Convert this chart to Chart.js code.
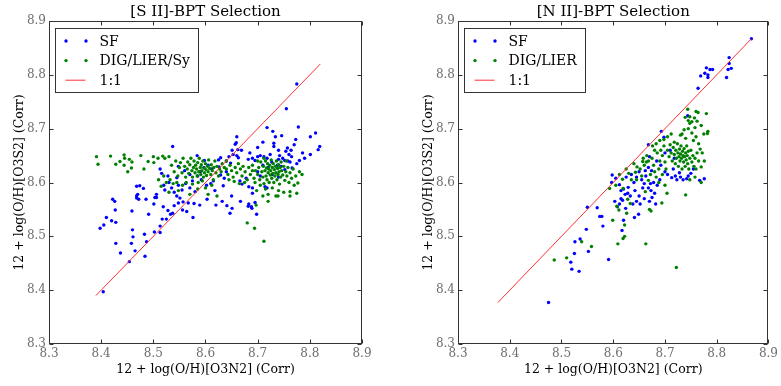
<!DOCTYPE html>
<html lang="en">
<head>
<meta charset="UTF-8">
<title>BPT Selection - O3S2 vs O3N2</title>
<script src="https://cdn.jsdelivr.net/npm/chart.js@4.4.0/dist/chart.umd.min.js"></script>
<style>
    * { margin: 0; padding: 0; box-sizing: border-box; }
    body { background: #fff; width: 781px; height: 386px; overflow: hidden; position: relative; }
    canvas { position: absolute; top: 0; }
    #panelS2 { left: 0; }
    #panelN2 { left: 390px; }
</style>
</head>
<body>
<canvas id="panelS2" width="390" height="386"></canvas>
<canvas id="panelN2" width="391" height="386"></canvas>
<script>
// shared axes
const axisTicks = [8.3, 8.4, 8.5, 8.6, 8.7, 8.8, 8.9];
const xLabel = '12 + log(O/H)[O3N2] (Corr)';
const yLabel = '12 + log(O/H)[O3S2] (Corr)';

// ---- [S II]-BPT panel ----
const sfS2 = [
    [8.398,8.515],[8.405,8.521],[8.410,8.535],[8.422,8.569],[8.426,8.565],[8.420,8.529],[8.428,8.526],[8.427,8.549],
    [8.428,8.487],[8.437,8.469],[8.454,8.453],[8.404,8.397],[8.458,8.487],[8.460,8.512],[8.461,8.499],[8.465,8.473],
    [8.484,8.463],[8.483,8.504],[8.487,8.490],[8.491,8.541],[8.502,8.508],[8.486,8.569],[8.506,8.578],[8.506,8.572],
    [8.459,8.547],[8.468,8.575],[8.501,8.560],[8.503,8.572],[8.513,8.519],[8.513,8.507],[8.517,8.532],[8.519,8.555],
    [8.528,8.548],[8.525,8.532],[8.533,8.541],[8.537,8.543],[8.540,8.557],[8.548,8.562],[8.551,8.571],[8.545,8.575],
    [8.557,8.564],[8.556,8.549],[8.564,8.546],[8.567,8.562],[8.576,8.535],[8.578,8.561],[8.589,8.558],[8.603,8.569],
    [8.620,8.558],[8.632,8.565],[8.641,8.557],[8.647,8.543],[8.651,8.552],[8.650,8.575],[8.690,8.580],[8.682,8.556],
    [8.689,8.552],[8.698,8.541],
    [8.537,8.667],[8.513,8.625],[8.516,8.617],[8.520,8.595],[8.522,8.586],[8.468,8.593],[8.474,8.594],[8.481,8.589],
    [8.470,8.578],[8.468,8.571],[8.472,8.569],[8.535,8.590],[8.540,8.582],[8.548,8.595],[8.555,8.586],[8.562,8.598],
    [8.570,8.590],[8.575,8.603],[8.580,8.583],[8.584,8.650],[8.598,8.641],[8.625,8.642],[8.629,8.646],[8.626,8.629],
    [8.629,8.614],[8.585,8.612],[8.592,8.605],[8.602,8.595],[8.610,8.598],[8.615,8.603],[8.634,8.594],[8.590,8.620],
    [8.597,8.628],[8.570,8.615],[8.560,8.622],[8.548,8.630],[8.605,8.632],[8.612,8.625],[8.545,8.609],[8.530,8.600],
    [8.528,8.612],[8.618,8.585],[8.636,8.608],[8.640,8.620],
    [8.660,8.685],[8.659,8.674],[8.657,8.671],[8.651,8.660],[8.662,8.661],[8.669,8.660],[8.653,8.652],[8.660,8.650],
    [8.663,8.646],[8.645,8.648],[8.640,8.640],[8.648,8.636],
    [8.775,8.783],[8.755,8.737],[8.718,8.702],[8.729,8.695],[8.778,8.703],[8.734,8.685],[8.746,8.687],[8.731,8.673],
    [8.731,8.667],[8.773,8.680],[8.770,8.670],[8.801,8.685],[8.811,8.692],[8.819,8.667],[8.816,8.661],[8.801,8.652],
    [8.754,8.658],[8.760,8.652],[8.765,8.648],[8.757,8.664],[8.764,8.660],[8.742,8.650],[8.748,8.645],[8.740,8.643],
    [8.752,8.641],[8.758,8.640],[8.762,8.638],[8.705,8.650],[8.712,8.648],[8.718,8.645],[8.724,8.652],[8.690,8.645],
    [8.695,8.641],[8.700,8.648],[8.682,8.643],[8.738,8.632],[8.745,8.630],[8.752,8.624],[8.766,8.627],[8.775,8.635],
    [8.780,8.641],[8.727,8.638],[8.720,8.628],[8.710,8.632],[8.700,8.620],[8.666,8.603],[8.670,8.597],[8.678,8.608],
    [8.683,8.592],[8.690,8.590],[8.714,8.592],[8.718,8.590],[8.667,8.565],[8.683,8.560],[8.688,8.555],[8.695,8.563],
    [8.705,8.612],[8.728,8.615],[8.740,8.610],[8.700,8.665],[8.710,8.675],[8.685,8.655],[8.740,8.660],[8.786,8.655],
    [8.790,8.645]
];
const digS2 = [
    [8.391,8.648],[8.394,8.634],[8.418,8.649],[8.428,8.634],[8.436,8.639],[8.444,8.651],[8.445,8.645],[8.444,8.632],
    [8.454,8.643],[8.459,8.638],[8.458,8.627],[8.451,8.620],[8.476,8.650],[8.482,8.625],[8.490,8.639],[8.500,8.648],
    [8.501,8.637],[8.509,8.645],[8.518,8.649],[8.522,8.645],[8.530,8.648],
    [8.535,8.632],[8.540,8.620],[8.543,8.640],[8.547,8.612],[8.550,8.628],[8.552,8.637],[8.555,8.618],[8.557,8.645],
    [8.560,8.630],[8.562,8.610],[8.565,8.625],[8.566,8.638],[8.568,8.617],[8.570,8.633],[8.572,8.645],[8.574,8.622],
    [8.575,8.610],[8.577,8.628],[8.578,8.640],[8.580,8.618],[8.581,8.632],[8.583,8.625],[8.584,8.612],[8.585,8.637],
    [8.587,8.620],[8.588,8.645],[8.590,8.628],[8.591,8.615],[8.592,8.633],[8.593,8.622],[8.595,8.640],[8.596,8.610],
    [8.597,8.627],[8.598,8.618],[8.600,8.635],[8.601,8.624],[8.602,8.613],[8.604,8.630],[8.605,8.620],[8.606,8.642],
    [8.608,8.626],[8.610,8.615],[8.611,8.633],[8.613,8.622],[8.615,8.605],[8.616,8.628],[8.618,8.640],[8.620,8.618],
    [8.622,8.630],[8.625,8.612],[8.627,8.625],[8.630,8.620],[8.532,8.605],[8.538,8.598],[8.545,8.600],[8.556,8.595],
    [8.563,8.600],[8.575,8.597],[8.586,8.600],[8.594,8.603],[8.520,8.612],[8.525,8.600],[8.515,8.593],[8.510,8.605],
    [8.530,8.582],[8.548,8.585],[8.570,8.578],[8.585,8.588],[8.600,8.590],[8.612,8.595],
    [8.632,8.635],[8.636,8.628],[8.640,8.625],[8.643,8.615],[8.647,8.632],[8.650,8.622],[8.653,8.610],[8.657,8.628],
    [8.660,8.618],[8.663,8.635],[8.667,8.625],[8.670,8.612],[8.672,8.630],[8.676,8.620],[8.680,8.605],[8.683,8.628],
    [8.686,8.615],[8.690,8.632],[8.693,8.608],[8.696,8.622],[8.640,8.640],[8.655,8.602],[8.665,8.598],[8.675,8.600],
    [8.645,8.605],
    [8.700,8.615],[8.702,8.628],[8.704,8.605],[8.706,8.638],[8.708,8.620],[8.710,8.610],[8.711,8.630],[8.712,8.598],
    [8.714,8.622],[8.715,8.640],[8.716,8.612],[8.717,8.627],[8.718,8.605],[8.719,8.635],[8.720,8.618],[8.721,8.625],
    [8.722,8.600],[8.723,8.632],[8.724,8.614],[8.725,8.622],[8.726,8.642],[8.727,8.608],[8.728,8.628],[8.729,8.617],
    [8.730,8.635],[8.731,8.600],[8.732,8.624],[8.733,8.612],[8.734,8.630],[8.735,8.618],[8.736,8.640],[8.737,8.605],
    [8.738,8.626],[8.739,8.615],[8.740,8.633],[8.741,8.620],[8.742,8.597],[8.743,8.628],[8.744,8.610],[8.745,8.638],
    [8.746,8.622],[8.748,8.614],[8.750,8.630],[8.752,8.604],[8.754,8.620],[8.756,8.612],[8.758,8.628],[8.760,8.600],
    [8.762,8.618],[8.765,8.608],[8.768,8.625],[8.770,8.595],[8.773,8.612],[8.777,8.599],[8.785,8.615],[8.762,8.583],
    [8.740,8.585],[8.728,8.590],[8.715,8.588],[8.705,8.595],[8.695,8.600],[8.720,8.578],[8.735,8.575],[8.750,8.582],
    [8.698,8.585],[8.710,8.575],[8.739,8.575],[8.762,8.575],[8.775,8.580],[8.700,8.640],[8.712,8.645],[8.690,8.622],
    [8.755,8.640],[8.780,8.620],
    [8.680,8.525],[8.694,8.515],[8.712,8.491],[8.697,8.558],[8.605,8.578],[8.622,8.575],[8.720,8.565]
];
const lineS2 = [8.39, 8.82];

// ---- [N II]-BPT panel ----
const sfN2 = [
    [8.867,8.867],[8.824,8.832],[8.824,8.821],[8.828,8.812],[8.822,8.810],[8.819,8.795],[8.780,8.813],[8.787,8.810],
    [8.792,8.810],[8.777,8.803],[8.783,8.800],[8.783,8.795],[8.769,8.798],[8.764,8.775],[8.744,8.724],[8.693,8.695],
    [8.698,8.684],
    [8.767,8.604],[8.776,8.607],[8.730,8.610],[8.735,8.605],[8.742,8.607],[8.745,8.612],[8.720,8.612],[8.723,8.605],
    [8.728,8.618],[8.713,8.609],[8.705,8.615],[8.700,8.620],[8.672,8.598],[8.678,8.600],[8.668,8.590],[8.673,8.585],
    [8.685,8.595],[8.690,8.605],[8.680,8.580],[8.675,8.572],[8.670,8.565],[8.682,8.560],[8.668,8.670],[8.670,8.648],
    [8.668,8.628],[8.674,8.622],[8.684,8.640],[8.692,8.632],[8.700,8.655],[8.710,8.660],[8.718,8.645],[8.716,8.625],
    [8.750,8.617],[8.755,8.625],
    [8.598,8.614],[8.597,8.600],[8.569,8.553],[8.578,8.537],[8.580,8.519],[8.548,8.513],[8.612,8.596],[8.615,8.585],
    [8.620,8.588],[8.623,8.578],[8.628,8.580],[8.633,8.575],[8.629,8.591],[8.640,8.600],[8.645,8.610],[8.650,8.620],
    [8.655,8.605],[8.660,8.598],[8.642,8.585],[8.650,8.575],[8.657,8.590],[8.663,8.612],[8.662,8.622],[8.635,8.615],
    [8.625,8.610],[8.618,8.567],[8.612,8.560],[8.624,8.552],[8.603,8.565],[8.608,8.555],[8.615,8.570],[8.638,8.560],
    [8.645,8.565],[8.652,8.560],[8.660,8.570],[8.605,8.608],
    [8.475,8.377],[8.534,8.435],[8.520,8.439],[8.518,8.452],[8.525,8.468],[8.552,8.472],[8.526,8.490],[8.536,8.495],
    [8.591,8.457],[8.617,8.511],[8.550,8.554],[8.574,8.537],[8.620,8.530],[8.641,8.535],[8.649,8.541]
];
const digN2 = [
    [8.744,8.736],[8.760,8.732],[8.764,8.730],[8.780,8.728],[8.739,8.721],[8.748,8.722],[8.757,8.720],[8.745,8.715],
    [8.752,8.713],[8.762,8.714],[8.782,8.691],[8.783,8.695],[8.748,8.710],[8.758,8.702],[8.770,8.706],[8.737,8.698],
    [8.730,8.688],[8.733,8.690],[8.718,8.675],[8.755,8.678],[8.765,8.672],[8.760,8.685],[8.752,8.692],[8.745,8.700],
    [8.740,8.682],[8.770,8.629],[8.775,8.690],
    [8.705,8.660],[8.708,8.648],[8.710,8.670],[8.712,8.655],[8.714,8.640],[8.716,8.665],[8.718,8.652],[8.720,8.635],
    [8.721,8.660],[8.722,8.645],[8.724,8.672],[8.725,8.655],[8.726,8.630],[8.727,8.648],[8.728,8.662],[8.729,8.640],
    [8.730,8.653],[8.731,8.668],[8.732,8.645],[8.733,8.625],[8.734,8.658],[8.735,8.650],[8.736,8.638],[8.737,8.663],
    [8.738,8.648],[8.739,8.630],[8.740,8.655],[8.741,8.642],[8.742,8.668],[8.743,8.650],[8.744,8.635],[8.745,8.658],
    [8.746,8.625],[8.748,8.645],[8.750,8.660],[8.752,8.638],[8.754,8.650],[8.756,8.630],[8.758,8.645],[8.760,8.625],
    [8.762,8.655],[8.765,8.640],[8.700,8.638],[8.702,8.625],[8.695,8.650],[8.690,8.640],[8.692,8.660],[8.698,8.668],
    [8.685,8.655],[8.688,8.625],[8.676,8.668],[8.683,8.672],[8.690,8.678],[8.698,8.680],[8.705,8.685],[8.712,8.690],
    [8.772,8.655],[8.776,8.640],[8.768,8.662],[8.664,8.638],[8.658,8.645],
    [8.593,8.589],[8.605,8.595],[8.618,8.606],[8.630,8.617],[8.643,8.619],[8.646,8.629],[8.657,8.639],[8.668,8.640],
    [8.635,8.605],[8.645,8.605],[8.619,8.589],[8.628,8.569],[8.611,8.549],[8.626,8.543],[8.599,8.530],[8.622,8.521],
    [8.662,8.583],[8.668,8.604],[8.670,8.550],[8.652,8.625],[8.660,8.632],[8.665,8.650],[8.675,8.645],[8.678,8.632],
    [8.680,8.620],[8.683,8.610],[8.672,8.615],[8.655,8.612],[8.640,8.635],[8.625,8.625],[8.612,8.615],[8.680,8.660],
    [8.688,8.600],[8.695,8.615],[8.700,8.595],
    [8.486,8.456],[8.510,8.460],[8.539,8.490],[8.558,8.481],[8.609,8.486],[8.619,8.496],[8.622,8.500],[8.663,8.486],
    [8.722,8.442],[8.607,8.556],[8.633,8.561],[8.694,8.562],[8.704,8.580],[8.740,8.577],[8.673,8.547],[8.770,8.600],
    [8.758,8.610],[8.748,8.605]
];
const lineN2 = [8.377, 8.867];

const SERIF = '"DejaVu Serif", serif';

function toXY(pairs) {
    return pairs.map(p => ({ x: p[0], y: p[1] }));
}

// matplotlib-ish frame: box, inward ticks on all four sides, boxed legend
const mplDecor = {
    id: 'mplDecor',
    afterDatasetsDraw(chart) {
        const ctx = chart.ctx, a = chart.chartArea;
        const L = Math.round(a.left) + 0.5, R = Math.round(a.right) - 0.5;
        const T = Math.round(a.top) + 0.5, B = Math.round(a.bottom) - 0.5;
        ctx.save();
        ctx.strokeStyle = '#333';
        ctx.lineWidth = 1;
        ctx.beginPath();
        chart.scales.x.ticks.forEach(t => {
            const px = Math.round(chart.scales.x.getPixelForValue(t.value)) + 0.5;
            ctx.moveTo(px, B); ctx.lineTo(px, B - 4);
            ctx.moveTo(px, T); ctx.lineTo(px, T + 4);
        });
        chart.scales.y.ticks.forEach(t => {
            const py = Math.round(chart.scales.y.getPixelForValue(t.value)) + 0.5;
            ctx.moveTo(L, py); ctx.lineTo(L + 4, py);
            ctx.moveTo(R, py); ctx.lineTo(R - 4, py);
        });
        ctx.stroke();
        ctx.strokeRect(L, T, R - L, B - T);
        ctx.restore();
    },
    afterDraw(chart) {
        const ctx = chart.ctx, a = chart.chartArea;
        const sets = chart.data.datasets;
        ctx.save();
        ctx.font = '14px ' + SERIF;
        const textW = Math.max(...sets.map(d => ctx.measureText(d.label).width));
        const bx = Math.round(a.left) + 6.5, by = Math.round(a.top) + 7.5;
        const bw = Math.round(textW + 53), bh = 64;
        ctx.fillStyle = '#fff';
        ctx.fillRect(bx, by, bw, bh);
        ctx.strokeStyle = '#333';
        ctx.lineWidth = 1;
        ctx.strokeRect(bx, by, bw, bh);
        sets.forEach((d, i) => {
            const cy = by + 12.5 + i * 19.6;
            if (d.showLine) {
                ctx.strokeStyle = d.borderColor;
                ctx.beginPath();
                ctx.moveTo(bx + 10, cy); ctx.lineTo(bx + 30, cy);
                ctx.stroke();
            } else {
                ctx.fillStyle = d.backgroundColor;
                [bx + 10.5, bx + 30.5].forEach(cx => {
                    ctx.beginPath();
                    ctx.arc(cx, cy, 1.7, 0, Math.PI * 2);
                    ctx.fill();
                });
            }
            ctx.fillStyle = '#000';
            ctx.textBaseline = 'middle';
            ctx.fillText(d.label, bx + 44, cy + 1);
        });
        ctx.restore();
    }
};

function makePanel(id, cfg) {
    return new Chart(document.getElementById(id), {
        type: 'scatter',
        data: {
            datasets: [
                { label: 'SF', data: toXY(cfg.sf), backgroundColor: '#0000ff', borderWidth: 0, pointRadius: 1.7, order: 2 },
                { label: cfg.digLabel, data: toXY(cfg.dig), backgroundColor: '#008000', borderWidth: 0, pointRadius: 1.7, order: 1 },
                { label: '1:1', data: cfg.line.map(v => ({ x: v, y: v })), showLine: true,
                  borderColor: '#ff3030', borderWidth: 1, pointRadius: 0, order: 0 }
            ]
        },
        options: {
            responsive: false,
            animation: false,
            events: [],
            layout: { padding: { left: cfg.padLeft, right: cfg.padRight, top: 0, bottom: 0 } },
            plugins: {
                legend: { display: false },
                tooltip: { enabled: false },
                title: {
                    display: true, text: cfg.title, fullSize: false, color: '#000',
                    font: { family: SERIF, size: 15, weight: 'normal' },
                    padding: { top: 3, bottom: 0 }
                }
            },
            scales: {
                x: {
                    type: 'linear', min: 8.3, max: 8.9,
                    grid: { display: false, drawTicks: false },
                    border: { display: false },
                    afterBuildTicks: s => { s.ticks = axisTicks.map(v => ({ value: v })); },
                    afterFit: s => { s.height = 42; },
                    ticks: { color: '#6e6e6e', padding: 3, autoSkip: false, maxRotation: 0,
                             font: { family: SERIF, size: 12 }, callback: v => v.toFixed(1) },
                    title: { display: true, text: xLabel, color: '#000',
                             font: { family: SERIF, size: 12.5 }, padding: { top: 0, bottom: 9 } }
                },
                y: {
                    type: 'linear', min: 8.3, max: 8.9,
                    grid: { display: false, drawTicks: false },
                    border: { display: false },
                    afterBuildTicks: s => { s.ticks = axisTicks.map(v => ({ value: v })); },
                    afterFit: s => { s.width = 49; },
                    ticks: { color: '#6e6e6e', padding: 3, autoSkip: false,
                             font: { family: SERIF, size: 12 }, callback: v => v.toFixed(1) },
                    title: { display: true, text: yLabel, color: '#000',
                             font: { family: SERIF, size: 12.5 }, padding: { top: 12, bottom: 0 } }
                }
            }
        },
        plugins: [mplDecor]
    });
}

makePanel('panelS2', {
    title: '[S II]-BPT Selection', digLabel: 'DIG/LIER/Sy',
    sf: sfS2, dig: digS2, line: lineS2, padLeft: 0, padRight: 28
});
makePanel('panelN2', {
    title: '[N II]-BPT Selection', digLabel: 'DIG/LIER',
    sf: sfN2, dig: digN2, line: lineN2, padLeft: 19, padRight: 10
});
</script>
</body>
</html>
